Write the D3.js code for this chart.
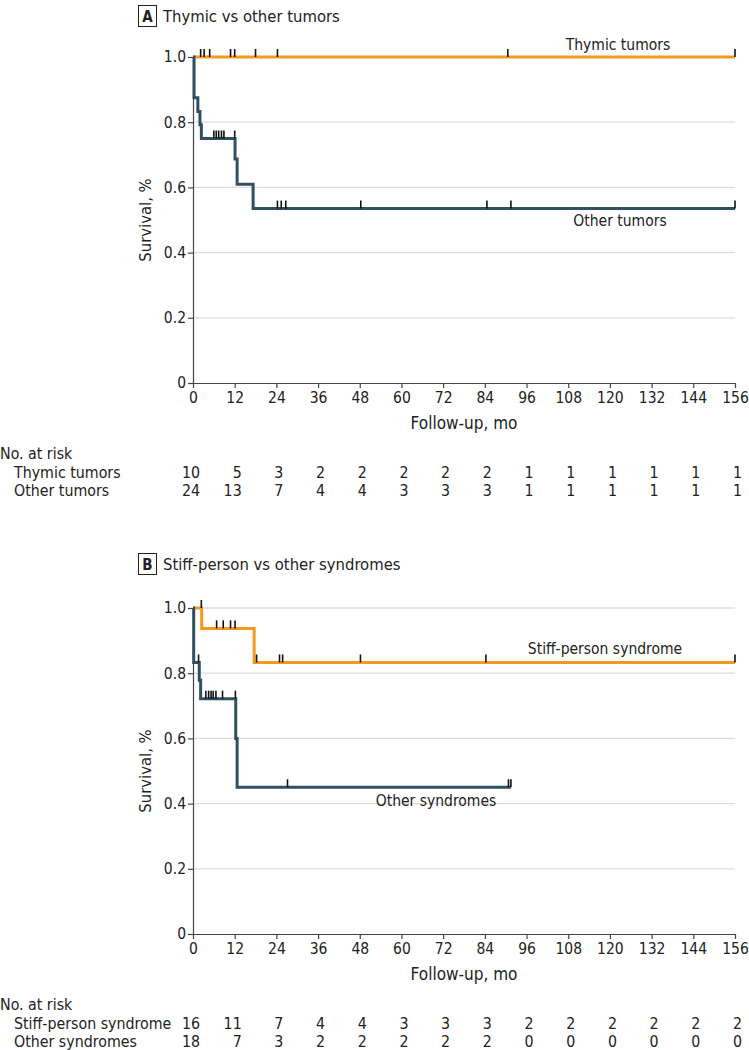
<!DOCTYPE html>
<html>
<head>
<meta charset="utf-8">
<script src="https://cdn.jsdelivr.net/npm/d3@7"></script>
<style>
  html, body { margin: 0; padding: 0; background: #fff; }
  svg text { font-family: "Liberation Sans Narrow", "DejaVu Sans Condensed", "Roboto", sans-serif; fill: #222; }
</style>
</head>
<body>
<svg id="chart" width="749" height="1050"></svg>
<script>
// ---------- DATA ----------
const monthTicks = [0, 12, 24, 36, 48, 60, 72, 84, 96, 108, 120, 132, 144, 156];
const survivalTicks = [0, 0.2, 0.4, 0.6, 0.8, 1.0];
const survivalTickLabels = ["0", "0.2", "0.4", "0.6", "0.8", "1.0"];

// Panel A
const thymicTimes = [0, 156];
const thymicSurv = [1.0, 1.0];
const thymicCensor = [2.2, 3.2, 4.8, 10.8, 12.0, 18.0, 24.3, 90.6, 156];
const otherTumorTimes = [0, 0.3, 1.4, 2.0, 2.4, 12.1, 12.7, 17.3, 156];
const otherTumorSurv = [1.0, 0.875, 0.833, 0.792, 0.75, 0.6875, 0.61, 0.535, 0.535];
const otherTumorCensor = [6.0, 6.7, 7.4, 8.2, 8.9, 12.0, 24.3, 25.4, 26.7, 48.3, 84.6, 91.5, 156];
const thymicAtRisk = [10, 5, 3, 2, 2, 2, 2, 2, 1, 1, 1, 1, 1, 1];
const otherTumorAtRisk = [24, 13, 7, 4, 4, 3, 3, 3, 1, 1, 1, 1, 1, 1];

// Panel B
const stiffTimes = [0, 2.5, 17.6, 156];
const stiffSurv = [1.0, 0.9375, 0.833, 0.833];
const stiffCensor = [2.4, 6.8, 8.7, 10.8, 12.1, 18.3, 24.9, 25.8, 48.2, 84.3, 156];
const otherSyndTimes = [0, 0.2, 1.8, 2.2, 12.3, 12.7, 91.5];
const otherSyndSurv = [1.0, 0.833, 0.778, 0.722, 0.60, 0.45, 0.45];
const otherSyndCensor = [1.6, 3.7, 4.5, 5.2, 5.8, 6.6, 8.5, 12.2, 27.2, 90.8, 91.5];
const stiffAtRisk = [16, 11, 7, 4, 4, 3, 3, 3, 2, 2, 2, 2, 2, 2];
const otherSyndAtRisk = [18, 7, 3, 2, 2, 2, 2, 2, 0, 0, 0, 0, 0, 0];

// ---------- STYLE ----------
const ORANGE = "#F39A1E";
const DARK = "#2F5060";
const AXIS = "#444";
const GRID = "#dedede";
const FONT = '"Liberation Sans Narrow", "DejaVu Sans Condensed", "Roboto", sans-serif';

const svg = d3.select("#chart");

function stepValue(times, surv, t) {
  let v = surv[0];
  for (let i = 0; i < times.length; i++) if (times[i] <= t) v = surv[i];
  return v;
}

function drawPanel(cfg) {
  const g = svg.append("g");
  const x = d3.scaleLinear().domain([0, 156]).range([193, 735]);
  const y = d3.scaleLinear().domain([0, 1]).range([cfg.y0, cfg.y0 - 326]);

  // title
  g.append("rect").attr("x", 138.5).attr("y", cfg.titleY - 10.5).attr("width", 18).attr("height", 21)
    .attr("fill", "#fff").attr("stroke", "#222").attr("stroke-width", 1);
  g.append("text").attr("x", 147.5).attr("y", cfg.titleY + 5.5).attr("text-anchor", "middle")
    .attr("font-size", 15).attr("font-weight", "bold").text(cfg.letter);
  g.append("text").attr("x", 163).attr("y", cfg.titleY + 5.5)
    .attr("font-size", 16.5).text(cfg.title);

  // gridlines
  g.append("g").selectAll("line").data(survivalTicks.filter(d => d > 0)).join("line")
    .attr("x1", x(0)).attr("x2", x(156)).attr("y1", d => y(d)).attr("y2", d => y(d))
    .attr("stroke", GRID).attr("stroke-width", 1.3);

  // axes
  const yAxis = d3.axisLeft(y).tickValues(survivalTicks)
    .tickFormat((d, i) => survivalTickLabels[i]).tickSize(5).tickSizeOuter(0).tickPadding(2);
  const ya = g.append("g").attr("transform", `translate(${x(0)},0)`).call(yAxis);
  const xAxis = d3.axisBottom(x).tickValues(monthTicks).tickSize(5).tickSizeOuter(0).tickPadding(4);
  const xa = g.append("g").attr("transform", `translate(0,${y(0)})`).call(xAxis);
  [ya, xa].forEach(a => {
    a.select(".domain").attr("stroke", AXIS).attr("stroke-width", 1.2);
    a.selectAll(".tick line").attr("stroke", AXIS).attr("stroke-width", 1.2);
    a.selectAll(".tick text").attr("font-size", 15.5).attr("fill", "#222").style("font-family", FONT);
  });

  // axis titles
  g.append("text").attr("transform", `translate(151,${y(0.5)}) rotate(-90)`)
    .attr("text-anchor", "middle").attr("font-size", 16.5).text("Survival, %");
  g.append("text").attr("x", x(78)).attr("y", y(0) + 46).attr("text-anchor", "middle")
    .attr("font-size", 17).text("Follow-up, mo");

  // curves
  const line = d3.line().x(d => x(d[0])).y(d => y(d[1])).curve(d3.curveStepAfter);
  cfg.series.forEach(s => {
    const pts = s.times.map((t, i) => [t, s.surv[i]]);
    g.append("path").datum(pts).attr("d", line).attr("fill", "none")
      .attr("stroke", s.color).attr("stroke-width", 3).attr("stroke-linejoin", "miter");
  });
  // censor marks
  cfg.series.forEach(s => {
    g.append("g").selectAll("line").data(s.censor).join("line")
      .attr("x1", d => x(d)).attr("x2", d => x(d))
      .attr("y1", d => y(stepValue(s.times, s.surv, d)) - 8)
      .attr("y2", d => y(stepValue(s.times, s.surv, d)))
      .attr("stroke", "#111").attr("stroke-width", 1.6);
  });
  // series labels
  cfg.series.forEach(s => {
    g.append("text").attr("x", s.labelX).attr("y", s.labelY).attr("text-anchor", "middle")
      .attr("font-size", 15.5).text(s.name);
  });

  // at-risk table
  const ry = cfg.riskY;
  g.append("text").attr("x", 0).attr("y", ry).attr("font-size", 15.8).text("No. at risk");
  cfg.series.forEach((s, si) => {
    const rowY = ry + 18.5 * (si + 1);
    g.append("text").attr("x", 14).attr("y", rowY).attr("font-size", 15.8).text(s.name);
    g.append("g").selectAll("text").data(s.atRisk).join("text")
      .attr("x", (d, i) => x(monthTicks[i]) + 7).attr("y", rowY)
      .attr("text-anchor", "end").attr("font-size", 15.8).text(d => d);
  });
}

drawPanel({
  letter: "A", title: "Thymic vs other tumors", titleY: 16, y0: 383, riskY: 459,
  series: [
    { name: "Thymic tumors", times: thymicTimes, surv: thymicSurv, censor: thymicCensor,
      atRisk: thymicAtRisk, color: ORANGE, labelX: 618, labelY: 50 },
    { name: "Other tumors", times: otherTumorTimes, surv: otherTumorSurv, censor: otherTumorCensor,
      atRisk: otherTumorAtRisk, color: DARK, labelX: 620, labelY: 226 }
  ]
});

drawPanel({
  letter: "B", title: "Stiff-person vs other syndromes", titleY: 564, y0: 934, riskY: 1010,
  series: [
    { name: "Stiff-person syndrome", times: stiffTimes, surv: stiffSurv, censor: stiffCensor,
      atRisk: stiffAtRisk, color: ORANGE, labelX: 605, labelY: 654 },
    { name: "Other syndromes", times: otherSyndTimes, surv: otherSyndSurv, censor: otherSyndCensor,
      atRisk: otherSyndAtRisk, color: DARK, labelX: 436, labelY: 806 }
  ]
});
</script>
</body>
</html>
